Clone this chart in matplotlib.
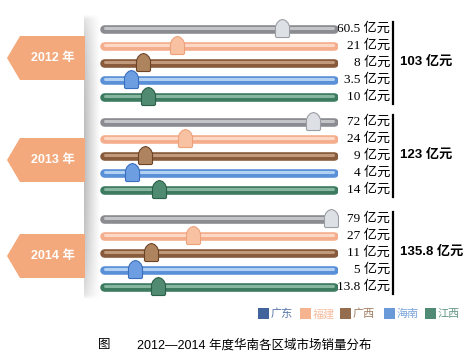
import numpy as np
import matplotlib.pyplot as plt
from matplotlib.path import Path
from matplotlib.patches import Polygon, Rectangle

plt.rcParams['font.family'] = ['Liberation Sans', 'Noto Sans CJK SC']

# data
years = ['2012 年', '2013 年', '2014 年']
regions = ['广东', '福建', '广西', '海南', '江西']
sales_2012 = [60.5, 21, 8, 3.5, 10]
sales_2013 = [72, 24, 9, 4, 14]
sales_2014 = [79, 27, 11, 5, 13.8]
sales = [sales_2012, sales_2013, sales_2014]

# styles per region: track, highlight, marker fill, marker edge, legend
track_col = ['#8b8c91', '#f4ae8d', '#875b3c', '#5a90d8', '#3d7b61']
light_col = ['#c4c5c9', '#fcd9c6', '#c09a7b', '#b2d0f2', '#86b5a0']
mk_fill = ['#dde0e4', '#f8c2a2', '#ad845e', '#6d9ee2', '#4f8a71']
mk_edge = ['#9a9ea4', '#eea27c', '#6e4427', '#3a6fbf', '#2b6148']
leg_col = ['#2d5393', '#f4ab84', '#8a5e3c', '#5b8fd4', '#3f7f66']

W, H = 469, 359
fig = plt.figure(figsize=(W / 100, H / 100), dpi=100)

# background axes in pixel units
bg = fig.add_axes([0, 0, 1, 1])
bg.set_xlim(0, W)
bg.set_ylim(H, 0)
bg.axis('off')

# data axes for tracks and markers
ax = fig.add_axes([100 / W, 0, 238 / W, 1])
ax.set_xlim(-8, 81.5)
ax.set_ylim(H, 0)
ax.axis('off')
ax.patch.set_alpha(0)

group_top = [29, 122, 219]
row_step = 17
tag_y = [58, 160, 256]

# shadow divider
grad = np.zeros((60, 30, 4))
gx = np.linspace(0.5, 0.0, 30) ** 1.2
gy = np.sin(np.linspace(0, np.pi, 60)) ** 0.3
grad[..., :3] = 0.4
grad[..., 3] = gy[:, None] * gx[None, :]
bg.imshow(grad, extent=(84, 101, 302, 12), aspect='auto', zorder=0,
          interpolation='bilinear')

# year tags
for yr, cy in zip(years, tag_y):
    pts = [(20, cy - 22), (85, cy - 22), (85, cy + 22), (20, cy + 22), (7, cy)]
    bg.add_patch(Polygon(pts, closed=True, fc='#f3a97b', ec='none', zorder=2))
    bg.text(53, cy, yr, color='white', fontsize=9, fontweight='bold',
            ha='center', va='center', zorder=3)

# marker shape (house / bullet)
verts = [(-7, -8), (-6, -9), (6, -9), (7, -8), (7, 2), (5.5, 5.5), (3, 8),
         (0, 9), (-3, 8), (-5.5, 5.5), (-7, 2), (-7, -8)]
bullet = Path(verts, closed=True)

trans = ax.get_yaxis_transform()
for g, vals in enumerate(sales):
    for i, v in enumerate(vals):
        y = group_top[g] + row_step * i
        ax.plot([0.017, 0.983], [y, y], transform=trans, color=track_col[i],
                lw=6.2, solid_capstyle='round', zorder=2)
        ax.plot([0.02, 0.98], [y - 1.2, y - 1.2], transform=trans,
                color=light_col[i], lw=2.2, solid_capstyle='round', zorder=3)
        ax.plot([v], [y - 1], marker=bullet, ms=13, mfc=mk_fill[i],
                mec=mk_edge[i], mew=0.8, zorder=5)
        bg.text(390, y, f'{v:g} 亿元', fontsize=9.5, ha='right', va='center',
                family=['Liberation Serif', 'Noto Sans CJK SC'], zorder=4)
    top = group_top[g]
    bg.plot([393, 393], [top - 7, top + 75], color='black', lw=1.6, zorder=4)
    total = round(sum(vals), 1)
    bg.text(400, top + 33, f'{total:g} 亿元', fontsize=9.5, fontweight='bold',
            ha='left', va='center', zorder=4)

# legend
leg_x = [258, 300, 340, 384, 425]
for name, lx, c in zip(regions, leg_x, leg_col):
    bg.add_patch(Rectangle((lx, 308), 11, 11, fc=c, ec='none', alpha=0.9,
                           zorder=4))
    bg.text(lx + 13, 314, name, fontsize=8, color=c, alpha=0.8,
            ha='left', va='center', zorder=4)

# caption
bg.text(98, 345, '图', fontsize=9, ha='left', va='center')
bg.text(137, 345, '2012—2014 年度华南各区域市场销量分布', fontsize=9,
        ha='left', va='center')

fig.savefig('out.png', dpi=100)
